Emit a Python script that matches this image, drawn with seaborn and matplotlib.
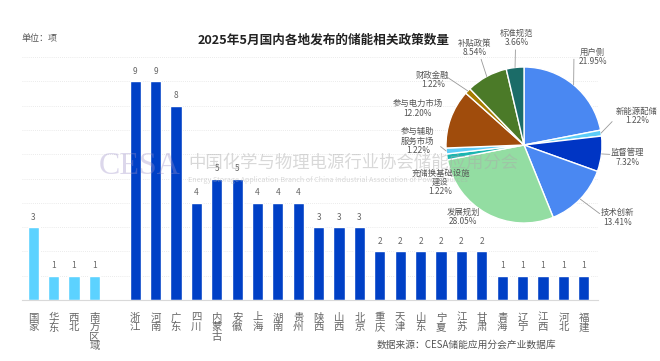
import numpy as np
import pandas as pd
import matplotlib
matplotlib.use("Agg")
import matplotlib.pyplot as plt
import seaborn as sns

# ---------------- data ----------------
regions = ["国家", "华东", "西北", "南方区域",
           "浙江", "河南", "广东", "四川", "内蒙古", "安徽", "上海", "湖南", "贵州",
           "陕西", "山西", "北京", "重庆", "天津", "山东", "宁夏", "江苏", "甘肃",
           "青海", "辽宁", "江西", "河北", "福建"]
counts = [3, 1, 1, 1,
          9, 9, 8, 4, 5, 5, 4, 4, 4,
          3, 3, 3, 2, 2, 2, 2, 2, 2,
          1, 1, 1, 1, 1]
levels = ["national"] * 4 + ["province"] * 23

pie_labels = ["用户侧", "新能源配储", "监督管理", "技术创新", "发展规划",
              "充储换基础设施\n建设", "参与辅助\n服务市场", "参与电力市场",
              "财政金融", "补贴政策", "标准规范"]
pie_values = [21.95, 1.22, 7.32, 13.41, 28.05, 1.22, 1.22, 12.20, 1.22, 8.54, 3.66]
pie_colors = ["#4A88F2", "#5CCDF8", "#0035C4", "#4A88F2", "#93DDA2", "#1AB5B0",
              "#5CCDF8", "#A04C0C", "#A67C00", "#4B7A28", "#1B6C68"]

title = "2025年5月国内各地发布的储能相关政策数量"
unit_text = "单位：项"
source_text = "数据来源：CESA储能应用分会产业数据库"

# ---------------- style ----------------
sns.set_theme(style="white")
plt.rcParams["font.family"] = ["Noto Sans CJK SC", "DejaVu Sans"]
plt.rcParams["axes.unicode_minus"] = False

fig = plt.figure(figsize=(6.6, 3.61), dpi=100)
fig.patch.set_facecolor("white")

# ---------------- bar chart ----------------
gap = " "
order = regions[:4] + [gap] + regions[4:]
df = pd.DataFrame({"region": regions, "count": counts, "level": levels})

ax = fig.add_axes([22 / 660, 1 - 300 / 361, (598 - 22) / 660, (300 - 57) / 361])
sns.barplot(data=df, x="region", y="count", hue="level", order=order,
            palette={"national": "#5CD2FF", "province": "#0040C6"},
            saturation=1, dodge=False, width=0.55, legend=False, ax=ax, zorder=2)
ax.set_ylim(0, 10)
ax.set_xlim(-0.55, 27.7)
ax.set_yticks(np.arange(1, 11))
ax.yaxis.grid(True, color="#E4E4E4", linestyle=(0, (1, 1.5)), linewidth=0.6, zorder=0)
ax.set_axisbelow(True)
ax.tick_params(axis="y", left=False, labelleft=False)
ax.tick_params(axis="x", bottom=False, pad=3)
ax.set_xticks(range(len(order)))
ax.set_xticklabels(["\n".join(r) for r in order], fontsize=7.5, color="#666666",
                   linespacing=0.95, va="top")
ax.set_xlabel("")
ax.set_ylabel("")
for s in ["top", "right", "left"]:
    ax.spines[s].set_visible(False)
ax.spines["bottom"].set_color("#D9D9D9")
ax.spines["bottom"].set_linewidth(0.8)
for c in ax.containers:
    ax.bar_label(c, fmt="%d", padding=4, fontsize=6, color="#666666")

# ---------------- texts ----------------
fig.text(324 / 660, 1 - 40 / 361, title, ha="center", va="center",
         fontsize=9.1, fontweight="bold", color="#222222")
fig.text(22 / 660, 1 - 39 / 361, unit_text, ha="left", va="center",
         fontsize=6.5, color="#555555")
fig.text(466 / 660, 1 - 345 / 361, source_text, ha="center", va="center",
         fontsize=7, color="#555555")

# watermark
fig.text(99 / 660, 1 - 167 / 361, "CESA", ha="left", va="center", fontsize=23,
         family="Liberation Serif", color="#9B8FC8", alpha=0.35)
fig.text(188 / 660, 1 - 163 / 361, "中国化学与物理电源行业协会储能应用分会",
         ha="left", va="center", fontsize=12.5, color="#AAAAAA", alpha=0.45)
fig.text(188 / 660, 1 - 180 / 361,
         "Energy Storage Application Branch of China Industrial Association of Power Sources",
         ha="left", va="center", fontsize=5.2, color="#AAAAAA", alpha=0.45)

# ---------------- pie chart ----------------
cx, cy, r = 524, 145, 78
pax = fig.add_axes([(cx - r) / 660, 1 - (cy + r) / 361, 2 * r / 660, 2 * r / 361])
wedges, _ = pax.pie(pie_values, colors=pie_colors, startangle=90, counterclock=False,
                    radius=1, wedgeprops=dict(edgecolor="white", linewidth=1.0))
pax.set_xlim(-1, 1)
pax.set_ylim(-1, 1)
pax.set_aspect("auto")
pax.axis("off")

# label layout (text centre in pie-axes units) and leader line end points
label_pos = [(0.88, 1.13), (1.45, 0.37), (1.33, -0.16), (1.20, -0.93), (-0.78, -0.92),
             (-1.07, -0.48), (-1.36, 0.05), (-1.36, 0.47), (-1.17, 0.83),
             (-0.63, 1.24), (-0.09, 1.37)]
leader_end = [(0.64, 1.10), (1.13, 0.30), (1.10, -0.12), (0.97, -0.88), None,
              None, (-1.07, -0.02), None, (-0.97, 0.86), (-0.55, 1.10), (-0.11, 1.22)]

for w, lab, val, pos, le in zip(wedges, pie_labels, pie_values, label_pos, leader_end):
    ang = np.deg2rad((w.theta1 + w.theta2) / 2)
    px, py = np.cos(ang), np.sin(ang)
    pax.text(pos[0], pos[1], f"{lab}\n{val:.2f}%", ha="center", va="center",
             fontsize=6, color="#555555", linespacing=1.05, clip_on=False, zorder=5)
    if le is not None:
        pax.plot([px, le[0]], [py, le[1]], color="#999999", linewidth=0.6,
                 clip_on=False, zorder=4)

fig.savefig("out.png", dpi=100, facecolor="white")
